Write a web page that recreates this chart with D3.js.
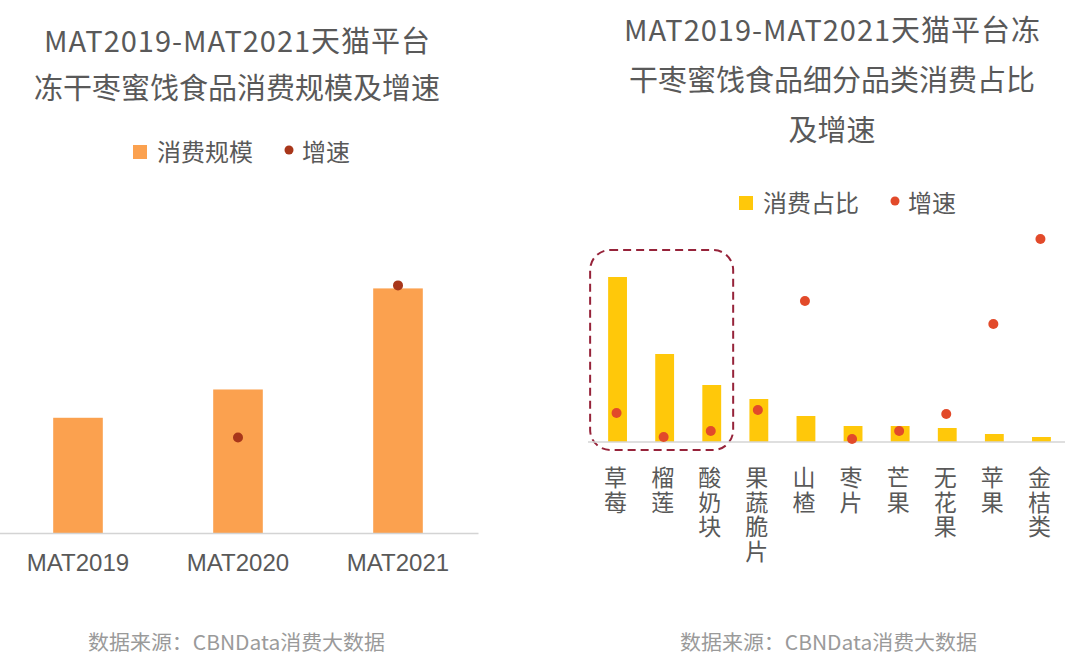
<!DOCTYPE html>
<html>
<head>
<meta charset="utf-8">
<script src="https://cdn.jsdelivr.net/npm/d3@7/dist/d3.min.js"></script>
<style>
  html, body { margin: 0; padding: 0; background: #fff; }
  svg { display: block; }
</style>
</head>
<body>
<div id="chart"></div>
<script>
// left chart: yearly scale (relative units) and growth
const years = ['MAT2019', 'MAT2020', 'MAT2021'];
const scaleValues = [114, 142, 242];
const scaleGrowth = [null, 0.27, 0.70];

// right chart: share by sub-category (%) and growth (%)
const categories = ['草莓', '榴莲', '酸奶块', '果蔬脆片', '山楂', '枣片', '芒果', '无花果', '苹果', '金桔类'];
const shareValues = [33, 17.6, 11.4, 8.6, 5.2, 3.2, 3.2, 2.8, 1.6, 1.0];
const shareGrowth = [29, 5, 11, 32, 141, 3, 11, 28, 118, 203];
const highlighted = ['草莓', '榴莲', '酸奶块'];

const titleLeft = ['MAT2019-MAT2021天猫平台', '冻干枣蜜饯食品消费规模及增速'];
const titleRight = ['MAT2019-MAT2021天猫平台冻', '干枣蜜饯食品细分品类消费占比', '及增速'];
const sourceText = '数据来源：CBNData消费大数据';

const W = 1080, H = 663;
const cjk = '"Noto Sans CJK SC", "Noto Sans", sans-serif';
const textColor = '#595959';

const svg = d3.select('#chart').append('svg')
  .attr('width', W)
  .attr('height', H);

function drawTitle(lines, cx, y0, dy, firstLen) {
  svg.append('g').selectAll('text')
    .data(lines)
    .join('text')
    .attr('x', cx)
    .attr('y', (d, i) => y0 + i * dy)
    .attr('text-anchor', 'middle')
    .attr('textLength', (d, i) => i === 0 ? firstLen : null)
    .attr('lengthAdjust', 'spacing')
    .style('font-family', cjk)
    .style('font-size', '29px')
    .style('fill', textColor)
    .text(d => d);
}

function drawLegend(x, y, barColor, dotColor, barLabel) {
  const g = svg.append('g').attr('transform', `translate(${x},${y})`);
  g.append('rect').attr('x', 0).attr('y', -7).attr('width', 14).attr('height', 14).attr('fill', barColor);
  g.append('text').attr('x', 24).attr('y', 0).attr('dy', '0.36em')
    .style('font-family', cjk).style('font-size', '24px').style('fill', textColor)
    .text(barLabel);
  g.append('circle').attr('cx', 156).attr('cy', -2).attr('r', 4.5).attr('fill', dotColor);
  g.append('text').attr('x', 169).attr('y', 0).attr('dy', '0.36em')
    .style('font-family', cjk).style('font-size', '24px').style('fill', textColor)
    .text('增速');
}

// ---------- left chart ----------
drawTitle(titleLeft, 237, 52, 47, 386);
drawLegend(133, 152, '#FBA14F', '#A8361A', '消费规模');

const leftBase = 533, leftTop = 250;
const xL = d3.scaleBand().domain(years).range([-2, 478]).paddingInner(0.69).paddingOuter(0.345);
const yL = d3.scaleLinear().domain([0, 280]).range([leftBase, leftTop]);
const yL2 = d3.scaleLinear().domain([0, 0.8]).range([leftBase, leftTop]);

svg.append('g').selectAll('rect')
  .data(years)
  .join('rect')
  .attr('x', d => xL(d))
  .attr('width', xL.bandwidth())
  .attr('y', (d, i) => yL(scaleValues[i]))
  .attr('height', (d, i) => leftBase - yL(scaleValues[i]))
  .attr('fill', '#FBA14F');

const axL = svg.append('g')
  .attr('transform', `translate(0,${leftBase})`)
  .call(d3.axisBottom(xL).tickSize(0).tickPadding(21));
axL.select('.domain').attr('stroke', '#d4d4d4').attr('stroke-width', 1.5);
axL.selectAll('text')
  .style('font-family', '"Liberation Sans", Arial, sans-serif')
  .style('font-size', '24px')
  .style('fill', textColor);

svg.append('g').selectAll('circle')
  .data(years.map((d, i) => ({ year: d, g: scaleGrowth[i] })).filter(d => d.g !== null))
  .join('circle')
  .attr('cx', d => xL(d.year) + xL.bandwidth() / 2)
  .attr('cy', d => yL2(d.g))
  .attr('r', 5)
  .attr('fill', '#A8361A');

// ---------- right chart ----------
drawTitle(titleRight, 832, 41, 50, 416);
drawLegend(739, 203, '#FFC80A', '#E24A2A', '消费占比');

const rightBase = 442, rightTop = 242;
const xR = d3.scaleBand().domain(categories).range([594, 1065]).paddingInner(0.6).paddingOuter(0.3);
const yR = d3.scaleLinear().domain([0, 40]).range([rightBase, rightTop]);
const yR2 = d3.scaleLinear().domain([0, 200]).range([rightBase, rightTop]);

// dashed highlight box around the top three
const hx0 = xR(highlighted[0]) - 18;
const hx1 = xR(highlighted[highlighted.length - 1]) + xR.bandwidth() + 12;
svg.append('rect')
  .attr('x', hx0)
  .attr('y', 250)
  .attr('width', hx1 - hx0)
  .attr('height', 200)
  .attr('rx', 20)
  .attr('ry', 20)
  .attr('fill', 'none')
  .attr('stroke', '#96233A')
  .attr('stroke-width', 2)
  .attr('stroke-dasharray', '8,5');

svg.append('g').selectAll('rect')
  .data(categories)
  .join('rect')
  .attr('x', d => xR(d))
  .attr('width', xR.bandwidth())
  .attr('y', (d, i) => yR(shareValues[i]))
  .attr('height', (d, i) => rightBase - yR(shareValues[i]))
  .attr('fill', '#FFC80A');

svg.append('line')
  .attr('x1', 588).attr('x2', 1065)
  .attr('y1', rightBase).attr('y2', rightBase)
  .attr('stroke', '#d4d4d4')
  .attr('stroke-width', 1.5);

svg.append('g').selectAll('circle')
  .data(categories)
  .join('circle')
  .attr('cx', d => xR(d) + xR.bandwidth() / 2 - 1)
  .attr('cy', (d, i) => yR2(shareGrowth[i]))
  .attr('r', 5)
  .attr('fill', '#E24A2A');

// vertical category labels (upright, top to bottom)
svg.append('g').selectAll('text')
  .data(categories)
  .join('text')
  .attr('x', d => xR(d) + xR.bandwidth() / 2 - 2)
  .attr('y', 466)
  .style('writing-mode', 'vertical-rl')
  .style('text-orientation', 'upright')
  .style('letter-spacing', '1.5px')
  .style('font-family', cjk)
  .style('font-size', '23px')
  .style('fill', textColor)
  .text(d => d);

// ---------- sources ----------
svg.append('g').selectAll('text')
  .data([88, 680])
  .join('text')
  .attr('x', d => d)
  .attr('y', 650)
  .attr('textLength', 297)
  .attr('lengthAdjust', 'spacingAndGlyphs')
  .style('font-family', cjk)
  .style('font-size', '20px')
  .style('fill', '#9a9a9a')
  .text(sourceText);
</script>
</body>
</html>
